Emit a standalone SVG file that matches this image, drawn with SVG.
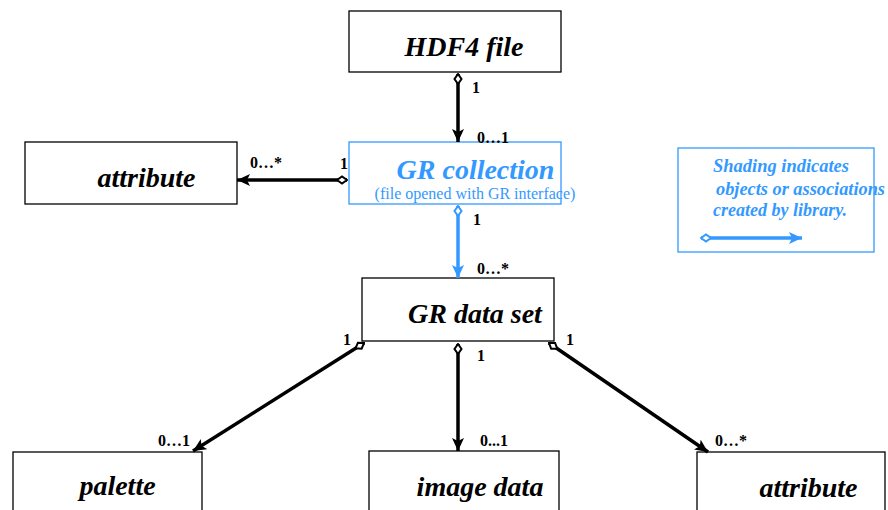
<svg xmlns="http://www.w3.org/2000/svg" width="888" height="510" viewBox="0 0 888 510">
<defs>
<style>
.box{fill:#fff;stroke:#000;stroke-width:1.3}
.bbox{fill:#fff;stroke:#3399ff;stroke-width:1.3}
.lbl{font-family:"Liberation Serif",serif;font-weight:bold;font-style:italic;font-size:28px;fill:#000}
.blbl{font-family:"Liberation Serif",serif;font-weight:bold;font-style:italic;font-size:28px;fill:#3399ff}
.sub{font-family:"Liberation Serif",serif;font-size:16px;fill:#3399ff}
.leg{font-family:"Liberation Serif",serif;font-weight:bold;font-style:italic;font-size:18.5px;fill:#3399ff}
.m{font-family:"Liberation Serif",serif;font-weight:bold;font-size:16px;fill:#000}
.c{fill:none;stroke:#000;stroke-width:3.5}
.cb{fill:none;stroke:#3399ff;stroke-width:3.5}
</style>
<marker id="ah" markerUnits="userSpaceOnUse" markerWidth="14" markerHeight="12" refX="13" refY="6" orient="auto"><path d="M0,0 L13,6 L0,12 L3,6 Z" fill="#000"/></marker>
<marker id="dm" markerUnits="userSpaceOnUse" markerWidth="12" markerHeight="10" refX="1" refY="5" orient="auto"><path d="M1,5 L6,1.5 L11,5 L6,8.5 Z" fill="#fff" stroke="#000" stroke-width="2"/></marker>
<marker id="ahb" markerUnits="userSpaceOnUse" markerWidth="14" markerHeight="12" refX="13" refY="6" orient="auto"><path d="M0,0 L13,6 L0,12 L3,6 Z" fill="#3399ff"/></marker>
<marker id="dmb" markerUnits="userSpaceOnUse" markerWidth="12" markerHeight="10" refX="1" refY="5" orient="auto"><path d="M1,5 L6,1.5 L11,5 L6,8.5 Z" fill="#fff" stroke="#3399ff" stroke-width="2"/></marker>
</defs>
<rect width="888" height="510" fill="#fff"/>

<g id="hdf4file"><rect class="box" x="349" y="11" width="212" height="61"/><text class="lbl" x="464" y="56" text-anchor="middle">HDF4 file</text></g>
<g id="attribute1"><rect class="box" x="25" y="142" width="212" height="62"/><text class="lbl" x="146.5" y="187" text-anchor="middle">attribute</text></g>
<g id="grcollection"><rect class="bbox" x="349" y="142" width="212" height="62"/><text class="blbl" x="475.5" y="179" text-anchor="middle">GR collection</text><text class="sub" x="475" y="199" text-anchor="middle">(file opened with GR interface)</text></g>
<g id="grdataset"><rect class="box" x="362" y="278" width="192" height="63"/><text class="lbl" x="475" y="323" text-anchor="middle">GR data set</text></g>
<g id="palette"><rect class="box" x="13" y="452" width="189" height="70"/><text class="lbl" x="117.5" y="495" text-anchor="middle">palette</text></g>
<g id="imagedata"><rect class="box" x="369" y="451" width="190" height="70"/><text class="lbl" x="480" y="496" text-anchor="middle">image data</text></g>
<g id="attribute2"><rect class="box" x="697" y="452" width="188" height="70"/><text class="lbl" x="808.5" y="497" text-anchor="middle">attribute</text></g>
<g id="legend"><rect class="bbox" x="678" y="148" width="196" height="104"/>
<text class="leg" x="713" y="172" textLength="136" lengthAdjust="spacingAndGlyphs">Shading indicates</text>
<text class="leg" x="716" y="195" textLength="169" lengthAdjust="spacingAndGlyphs">objects or associations</text>
<text class="leg" x="713" y="216" textLength="134" lengthAdjust="spacingAndGlyphs">created by library.</text>
<path class="cb" d="M701,238 L802,238" marker-start="url(#dmb)" marker-end="url(#ahb)"/></g>

<g id="connectors">
<path class="c" d="M458,74 L458,142" marker-start="url(#dm)" marker-end="url(#ah)"/>
<text class="m" x="472" y="93">1</text><text class="m" x="477" y="143">0…1</text>
<path class="c" d="M347,180 L237,180" marker-start="url(#dm)" marker-end="url(#ah)"/>
<text class="m" x="250" y="168">0…*</text><text class="m" x="340" y="169">1</text>
<path class="cb" d="M458,206 L458,278" marker-start="url(#dmb)" marker-end="url(#ahb)"/>
<text class="m" x="473" y="225">1</text><text class="m" x="477" y="274">0…*</text>
<path class="c" d="M364,343 L193,451" marker-start="url(#dm)" marker-end="url(#ah)"/>
<text class="m" x="343" y="345">1</text><text class="m" x="158" y="446">0…1</text>
<path class="c" d="M458,344 L458,451" marker-start="url(#dm)" marker-end="url(#ah)"/>
<text class="m" x="477" y="361">1</text><text class="m" x="480" y="446">0...1</text>
<path class="c" d="M549,343 L708,452" marker-start="url(#dm)" marker-end="url(#ah)"/>
<text class="m" x="566" y="345">1</text><text class="m" x="715" y="446">0…*</text>
</g>
</svg>
